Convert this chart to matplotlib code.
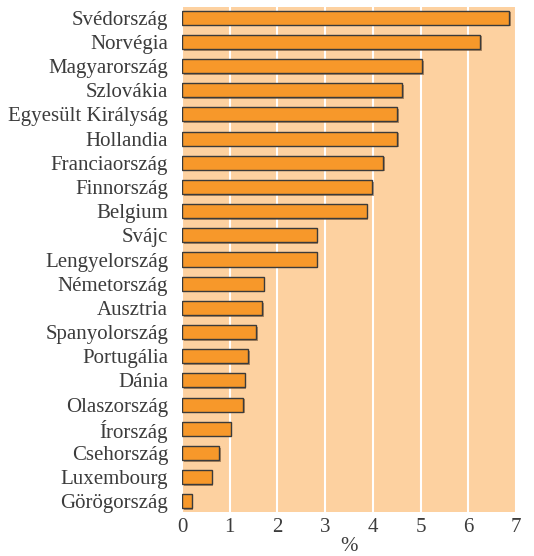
import matplotlib
matplotlib.use("Agg")
import matplotlib.pyplot as plt
import matplotlib.patheffects as pe

countries = ["Svédország", "Norvégia", "Magyarország", "Szlovákia", "Egyesült Királyság",
             "Hollandia", "Franciaország", "Finnország", "Belgium", "Svájc", "Lengyelország",
             "Németország", "Ausztria", "Spanyolország", "Portugália", "Dánia", "Olaszország",
             "Írország", "Csehország", "Luxembourg", "Görögország"]
values = [6.86, 6.25, 5.04, 4.62, 4.51, 4.51, 4.22, 3.98, 3.87, 2.82, 2.82,
          1.71, 1.68, 1.55, 1.39, 1.31, 1.28, 1.02, 0.78, 0.62, 0.20]
xticks = [0, 1, 2, 3, 4, 5, 6, 7]
xlabel = "%"

plt.rcParams['font.family'] = ['Liberation Serif', 'DejaVu Serif']

fig = plt.figure(figsize=(5.34, 5.56), dpi=100)
ax = fig.add_axes([182/534, 1-512/556, (516-182)/534, (512-7)/556])
ax.set_facecolor('#FDD1A0')

ypos = list(range(len(countries)))
bars = ax.barh(ypos, values, height=0.58, color='#F7982A', edgecolor='#3a3a3a',
               linewidth=1.0, zorder=3)
for b in bars:
    b.set_path_effects([pe.SimplePatchShadow(offset=(1.2, -1.2), shadow_rgbFace='#7a5a3a', alpha=0.6),
                        pe.Normal()])

ax.set_xlim(0, 7)
ax.set_ylim(len(countries) - 0.56, -0.44)
ax.set_xticks(xticks)
ax.set_yticks(ypos)
ax.set_yticklabels(countries)
ax.xaxis.grid(True, color='white', linewidth=1.5, zorder=1)
ax.set_axisbelow(True)
for s in ax.spines.values():
    s.set_visible(False)
ax.tick_params(axis='both', length=0, labelsize=15, colors='#3c3c3c')
ax.tick_params(axis='y', pad=10)
ax.tick_params(axis='x', pad=4)
ax.set_xlabel(xlabel, fontsize=15, color='#3c3c3c', labelpad=0)

fig.savefig("out.png", dpi=100)
